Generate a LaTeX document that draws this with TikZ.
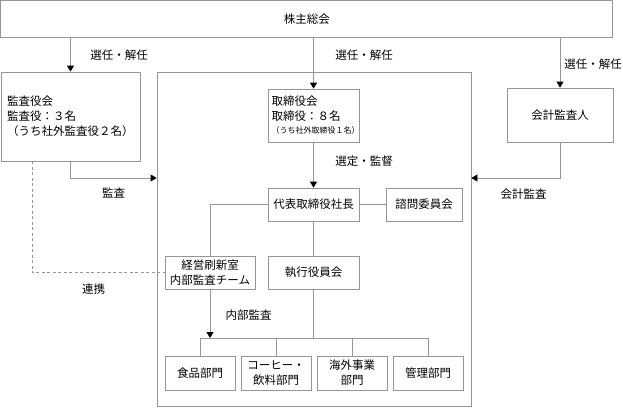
\documentclass[tikz,border=0pt]{standalone}
\usepackage{fontspec}
\setmainfont{Noto Sans CJK JP}
\usetikzlibrary{arrows.meta,calc}
\definecolor{linegray}{RGB}{150,150,150}
\tikzset{
  box/.style={draw=linegray, line width=0.8pt, fill=white, inner sep=0pt, font=\fontsize{11.5}{15}\selectfont, align=center},
  conn/.style={draw=linegray, line width=0.8pt},
  arr/.style={conn, -{Triangle[length=6pt,width=7pt,color=black]}},
  lbl/.style={inner sep=0pt, font=\fontsize{11.5}{15}\selectfont},
}
\begin{document}
\begin{tikzpicture}[x=1pt,y=-1pt]
\useasboundingbox (0,0) rectangle (623,407);
% big frame
\node[box, minimum width=314pt, minimum height=334pt] (big) at (314,239) {};
% boxes
\node[box, minimum width=612pt, minimum height=36.5pt] (top) at (306.75,18.75) {株主総会};
\node[box, minimum width=139pt, minimum height=89pt, text width=127pt, align=left, inner xsep=6pt] (kansa) at (70.5,116.5)
  {監査役会\\監査役：３名\\（うち社外監査役２名）};
\node[box, minimum width=91pt, minimum height=53pt, text width=84pt, align=left, inner xsep=3.5pt] (tori) at (313.5,115.5)
  {取締役会\\取締役：８名\\[-2pt]{\fontsize{8}{10}\selectfont （うち社外取締役１名）}};
\node[box, minimum width=106pt, minimum height=54pt] (kaikei) at (560,115) {会計監査人};
\node[box, minimum width=91pt, minimum height=33pt] (daihyo) at (313.5,204.5) {代表取締役社長};
\node[box, minimum width=76pt, minimum height=33pt] (shimon) at (424,204.5) {諮問委員会};
\node[box, minimum width=90pt, minimum height=33pt] (keiei) at (210,272.5) {経営刷新室\\内部監査チーム};
\node[box, minimum width=91pt, minimum height=33pt] (shikko) at (313.5,272.5) {執行役員会};
\node[box, minimum width=70pt, minimum height=34pt] (b1) at (200,373) {食品部門};
\node[box, minimum width=70pt, minimum height=34pt] (b2) at (276,373) {コーヒー・\\飲料部門};
\node[box, minimum width=70pt, minimum height=34pt] (b3) at (352,373) {海外事業\\部門};
\node[box, minimum width=70pt, minimum height=34pt] (b4) at (428,373) {管理部門};
% helper coordinates
\coordinate (audy) at (0,178);
\coordinate (bus) at (313.5,338);
\coordinate (dx) at (32,0);
% connectors
\draw[arr] (top.south -| kansa.north) -- (kansa.north);
\draw[arr] (top.south -| tori.north) -- (tori.north);
\draw[arr] (top.south -| kaikei.north) -- (kaikei.north);
\draw[arr] (tori.south) -- (daihyo.north);
\draw[conn] (daihyo.east) -- (shimon.west);
\draw[conn] (daihyo.west) -| (keiei.north);
\draw[conn] (daihyo.south) -- (shikko.north);
\draw[conn] (shikko.south) -- (bus);
\draw[conn] (b1.north) -- (b1.north |- bus) -- (b4.north |- bus) -- (b4.north);
\draw[conn] (b2.north) -- (b2.north |- bus);
\draw[conn] (b3.north) -- (b3.north |- bus);
\draw[arr] (keiei.south) -- (keiei.south |- bus);
\draw[arr] (kansa.south) |- (big.west |- audy);
\draw[arr] (kaikei.south) |- (big.east |- audy);
\draw[conn, dashed, dash pattern=on 3pt off 2.5pt] (kansa.south -| dx) |- (keiei.west);
% labels
\node[lbl] (l1) at (119,55) {選任・解任};
\node[lbl] (l2) at (364,55) {選任・解任};
\node[lbl] (l3) at (593,64) {選任・解任};
\node[lbl] (l4) at (364,161) {選定・監督};
\node[lbl] (l5) at (113.5,193) {監査};
\node[lbl] (l6) at (523.5,194) {会計監査};
\node[lbl] (l7) at (93.5,289) {連携};
\node[lbl] (l8) at (248.5,315) {内部監査};
\end{tikzpicture}
\end{document}
